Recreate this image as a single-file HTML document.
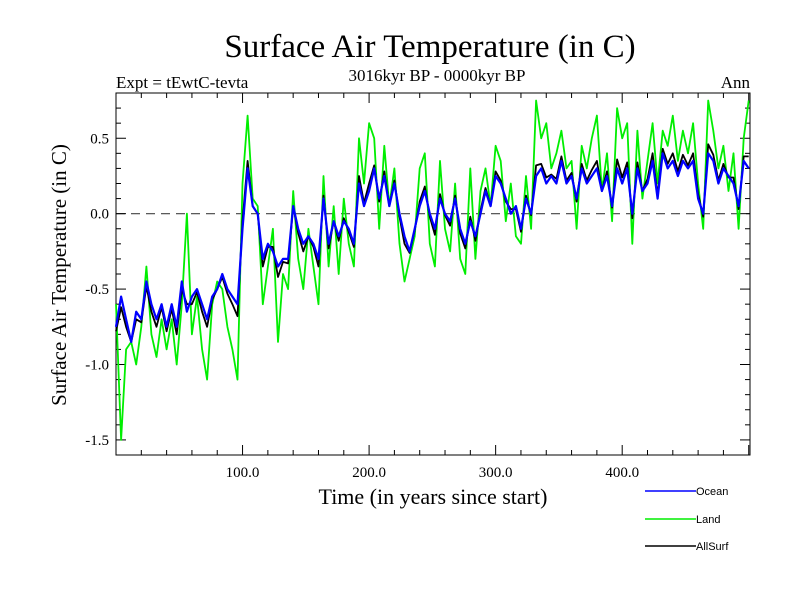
<!DOCTYPE html>
<html><head><meta charset="utf-8"><style>
html,body{margin:0;padding:0;background:#fff;}
svg text{font-family:"Liberation Serif",serif;}
</style></head><body>
<svg id="chart" width="800" height="600" xmlns="http://www.w3.org/2000/svg">
<text x="430" y="57" font-size="33" text-anchor="middle">Surface Air Temperature (in C)</text>
<text x="116" y="88" font-size="17">Expt = tEwtC-tevta</text>
<text x="437" y="81" font-size="17" text-anchor="middle">3016kyr BP - 0000kyr BP</text>
<text x="750" y="88" font-size="17" text-anchor="end">Ann</text>
<text transform="translate(66,275) rotate(-90)" font-size="21" text-anchor="middle">Surface Air Temperature (in C)</text>
<text x="433" y="504" font-size="22" text-anchor="middle">Time (in years since start)</text>
<g id="axes"></g>
<g id="series"></g>
<g>
<g><line x1="645" y1="491" x2="696" y2="491" stroke="#0000ff" stroke-width="1.5"/><text x="696" y="495" font-size="11" style="font-family:'Liberation Sans',sans-serif">Ocean</text></g>
<g><line x1="645" y1="519" x2="696" y2="519" stroke="#00ee00" stroke-width="1.5"/><text x="696" y="523" font-size="11" style="font-family:'Liberation Sans',sans-serif">Land</text></g>
<g><line x1="645" y1="546" x2="696" y2="546" stroke="#000" stroke-width="1.5"/><text x="696" y="550" font-size="11" style="font-family:'Liberation Sans',sans-serif">AllSurf</text></g>
</g>
</svg>
<script>
const years = [];
for (let y = 0; y <= 500; y += 4) years.push(y);
const ocean = [-0.75,-0.55,-0.7,-0.85,-0.65,-0.7,-0.45,-0.6,-0.7,-0.6,-0.75,-0.6,-0.75,-0.45,-0.65,-0.55,-0.5,-0.6,-0.7,-0.55,-0.5,-0.4,-0.5,-0.55,-0.6,
-0.1,0.3,0.05,0.0,-0.3,-0.2,-0.25,-0.35,-0.3,-0.3,0.05,-0.1,-0.2,-0.15,-0.2,-0.3,0.1,-0.2,-0.05,-0.15,-0.05,-0.1,-0.2,0.2,0.05,
0.15,0.3,0.1,0.25,0.05,0.2,0.0,-0.15,-0.25,-0.1,0.05,0.15,0.0,-0.1,0.1,0.0,-0.05,0.1,-0.1,-0.2,-0.05,-0.15,0.0,0.15,0.05,
0.25,0.2,0.1,0.0,0.05,-0.1,0.1,0.0,0.25,0.3,0.2,0.25,0.2,0.35,0.2,0.25,0.1,0.3,0.2,0.25,0.3,0.15,0.25,0.05,0.3,
0.2,0.3,0.0,0.3,0.15,0.2,0.35,0.1,0.4,0.3,0.35,0.25,0.35,0.3,0.35,0.1,0.0,0.4,0.35,0.2,0.3,0.25,0.2,0.05,0.35,0.3];
const land = [-0.6,-1.5,-0.9,-0.85,-1.0,-0.75,-0.35,-0.8,-0.95,-0.7,-0.9,-0.7,-1.0,-0.6,0.0,-0.8,-0.55,-0.9,-1.1,-0.6,-0.45,-0.5,-0.75,-0.9,-1.1,
0.2,0.65,0.1,0.05,-0.6,-0.35,-0.1,-0.85,-0.4,-0.5,0.15,-0.3,-0.5,-0.1,-0.35,-0.6,0.25,-0.35,0.05,-0.4,0.1,-0.2,-0.35,0.5,0.2,
0.6,0.5,-0.1,0.45,0.05,0.3,-0.2,-0.45,-0.3,-0.15,0.3,0.4,-0.2,-0.35,0.35,-0.1,-0.25,0.2,-0.3,-0.4,0.3,-0.3,0.15,0.3,0.05,
0.45,0.35,-0.05,0.2,-0.15,-0.2,0.25,-0.1,0.75,0.5,0.6,0.3,0.4,0.55,0.3,0.35,-0.1,0.45,0.3,0.5,0.65,0.15,0.4,-0.05,0.7,
0.5,0.6,-0.2,0.55,0.1,0.35,0.6,0.2,0.55,0.45,0.65,0.35,0.55,0.4,0.6,0.2,-0.1,0.75,0.55,0.3,0.45,0.15,0.4,-0.1,0.5,0.75];
const allsurf = [-0.78,-0.62,-0.75,-0.85,-0.7,-0.72,-0.48,-0.65,-0.75,-0.62,-0.78,-0.63,-0.8,-0.5,-0.6,-0.6,-0.52,-0.65,-0.75,-0.57,-0.5,-0.42,-0.53,-0.6,-0.68,
-0.05,0.35,0.05,0.0,-0.35,-0.22,-0.22,-0.42,-0.32,-0.33,0.05,-0.13,-0.25,-0.15,-0.22,-0.35,0.12,-0.23,-0.05,-0.18,-0.03,-0.12,-0.22,0.25,0.07,
0.2,0.32,0.08,0.28,0.05,0.22,-0.02,-0.2,-0.26,-0.11,0.08,0.18,-0.02,-0.14,0.13,-0.01,-0.08,0.12,-0.13,-0.23,-0.02,-0.18,0.02,0.17,0.05,
0.28,0.22,0.08,0.03,0.03,-0.12,0.12,-0.01,0.32,0.33,0.24,0.26,0.23,0.38,0.22,0.27,0.08,0.33,0.22,0.29,0.35,0.15,0.28,0.04,0.36,
0.24,0.34,-0.03,0.34,0.15,0.23,0.4,0.12,0.43,0.33,0.4,0.28,0.39,0.32,0.4,0.13,-0.02,0.46,0.39,0.22,0.33,0.24,0.24,0.03,0.38,0.38];
const yTicks = [0.5,0.0,-0.5,-1.0,-1.5];
const yTickLabels = ["0.5","0.0","-0.5","-1.0","-1.5"];
const xTicks = [100,200,300,400];
const xTickLabels = ["100.0","200.0","300.0","400.0"];

const L=116,R=750,T=93,B=455, X0=0,X1=501, Y0=-1.6,Y1=0.8;
const sx=v=>L+(v-X0)/(X1-X0)*(R-L);
const sy=v=>B-(v-Y0)/(Y1-Y0)*(B-T);
const NS="http://www.w3.org/2000/svg";
function mk(tag,attrs,parent){const e=document.createElementNS(NS,tag);for(const k in attrs)e.setAttribute(k,attrs[k]);parent.appendChild(e);return e;}
const ax=document.getElementById('axes'), sg=document.getElementById('series');

const zl=mk('line',{x1:L,x2:R,y1:sy(0),y2:sy(0),stroke:'#444','stroke-dasharray':'9,6','stroke-width':1.2},ax);



function addSeries(vals,color,name,w){
  const d=vals.map((v,i)=>(i?'L':'M')+sx(years[i]).toFixed(1)+','+sy(v).toFixed(1)).join('');
  const p=mk('path',{d:d,fill:'none',stroke:color,'stroke-width':w,'stroke-linejoin':'round'},sg);
  
  
}
addSeries(land,'#00ee00','land-line',1.8);
addSeries(allsurf,'#000','allsurf-line',1.8);
addSeries(ocean,'#0000ff','ocean-line',2.2);

const frame=mk('rect',{x:L,y:T,width:R-L,height:B-T,fill:'none',stroke:'#000','stroke-width':1},ax);



for(let v=-16;v<=8;v++){
  const y=sy(v/10), major=(v%5===0), len=major?10:5;
  const t1=mk('line',{x1:L,x2:L+len,y1:y,y2:y,stroke:'#000'},ax);
  
  
  const t2=mk('line',{x1:R,x2:R-len,y1:y,y2:y,stroke:'#000'},ax);
  
  
}
yTicks.forEach((v,i)=>{
  const t=mk('text',{x:L-7,y:sy(v)+5,'font-size':15,'text-anchor':'end'},ax);
  t.textContent=yTickLabels[i];
  
  
});
for(let v=20;v<=500;v+=20){
  const x=sx(v), major=(v%100===0), len=major?10:5;
  const t1=mk('line',{x1:x,x2:x,y1:B,y2:B-len,stroke:'#000'},ax);
  
  
  const t2=mk('line',{x1:x,x2:x,y1:T,y2:T+len,stroke:'#000'},ax);
  
  
}
xTicks.forEach((v,i)=>{
  const t=mk('text',{x:sx(v),y:B+22,'font-size':15,'text-anchor':'middle'},ax);
  t.textContent=xTickLabels[i];
  
  
});
</script>
</body></html>
